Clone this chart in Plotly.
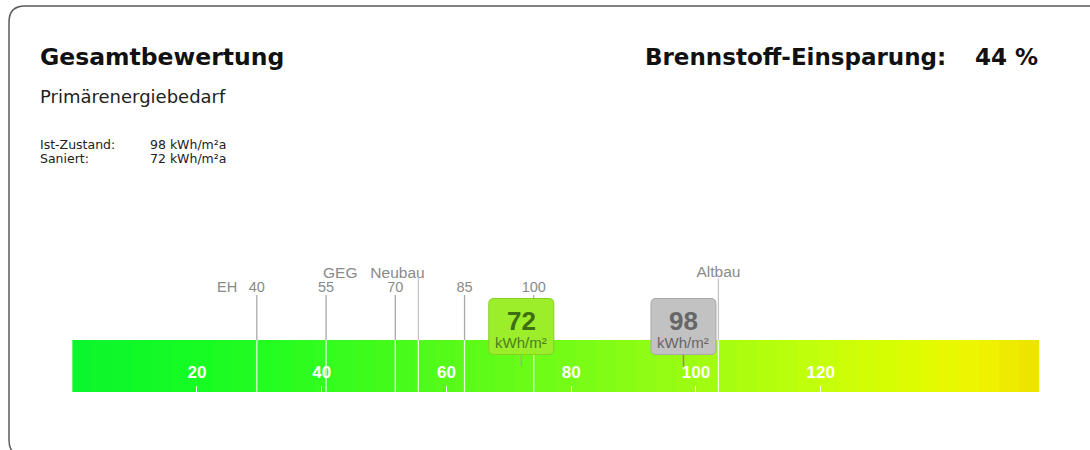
import numpy as np
import plotly.graph_objects as go

W, H = 1090, 450

# ---------------- data ----------------
SCALE_TICKS = [20, 40, 60, 80, 100, 120]
SCALE_MAX = 155
EH_LABELS = ["40", "55", "70", "85", "100"]
EH_VALUES = [29.6, 40.7, 51.8, 62.9, 74.0]
GEG_NEUBAU = 55.5
ALTBAU = 103.6
IST_ZUSTAND = 98
SANIERT = 72
EINSPARUNG = 44
UNIT_BOX = "kWh/m²"
UNIT_YEAR = "kWh/m²a"

GRADIENT_POS = [0, 20, 40, 60, 80, 100, 120, 135, 145, 155]
GRADIENT_RGB = [(10, 245, 45), (22, 252, 35), (48, 253, 30), (85, 250, 25),
                (118, 252, 22), (158, 252, 18), (195, 255, 10), (222, 253, 0),
                (240, 244, 0), (236, 226, 0)]

# ---------------- geometry (pixels) ----------------
BAR_L, BAR_R = 72.2, 1039.0
BAR_BOT, BAR_TOP = 391.7, 340.0


def yd(p):
    """pixel row -> y data value (1 unit = 1 px, 0 = bar bottom)"""
    return BAR_BOT - p


def px(x):
    return x / W


def py(y):
    return 1 - y / H


BAR_H = yd(BAR_TOP)
FONT = "Liberation Sans, Arial, sans-serif"
HFONT = "DejaVu Sans, sans-serif"
GRAY = "#8a8a8a"

fig = go.Figure()

# gradient bar
n_seg = 48
edges = np.linspace(0, SCALE_MAX, n_seg + 1)
centers = (edges[:-1] + edges[1:]) / 2
colorscale = [[p / SCALE_MAX, "rgb(%d,%d,%d)" % c] for p, c in zip(GRADIENT_POS, GRADIENT_RGB)]
fig.add_trace(go.Heatmap(x=edges, y=[0, BAR_H], z=[centers], colorscale=colorscale,
                         zmin=0, zmax=SCALE_MAX, showscale=False, hoverinfo="skip",
                         zsmooth=False))


# reference lines
def seg_lines(values, y0, y1):
    xs, ys = [], []
    for v in values:
        xs += [v, v, None]
        ys += [y0, y1, None]
    return xs, ys


gx, gy = seg_lines(EH_VALUES, BAR_H, yd(295))
fig.add_trace(go.Scatter(x=gx, y=gy, mode="lines", line=dict(color="#a8a8a8", width=1.3),
                         hoverinfo="skip", showlegend=False))
gx, gy = seg_lines([GEG_NEUBAU, ALTBAU], BAR_H, yd(278.3))
fig.add_trace(go.Scatter(x=gx, y=gy, mode="lines", line=dict(color="#c4c4c4", width=1.3),
                         hoverinfo="skip", showlegend=False))
wx, wy = seg_lines(EH_VALUES + [GEG_NEUBAU, ALTBAU], 0, BAR_H)
fig.add_trace(go.Scatter(x=wx, y=wy, mode="lines", line=dict(color="rgba(255,255,255,0.85)", width=1.3),
                         hoverinfo="skip", showlegend=False))

# scale labels inside bar
fig.add_trace(go.Scatter(x=SCALE_TICKS, y=[yd(373.3)] * len(SCALE_TICKS), mode="text",
                         text=[str(t) for t in SCALE_TICKS], textposition="middle center",
                         textfont=dict(family=FONT, size=17, color="white", weight="bold"),
                         hoverinfo="skip", showlegend=False))

# EH labels
fig.add_trace(go.Scatter(x=EH_VALUES, y=[yd(288.3)] * len(EH_VALUES), mode="text",
                         text=EH_LABELS, textposition="middle center",
                         textfont=dict(family=FONT, size=14.5, color=GRAY),
                         hoverinfo="skip", showlegend=False))
fig.add_trace(go.Scatter(x=[ALTBAU], y=[yd(272.7)], mode="text", text=["Altbau"],
                         textposition="middle center",
                         textfont=dict(family=FONT, size=15.5, color=GRAY),
                         hoverinfo="skip", showlegend=False))

annotations = [
    dict(x=EH_VALUES[0], y=yd(287), xref="x", yref="y", text="EH", showarrow=False,
         xanchor="right", yanchor="middle", xshift=-18,
         font=dict(family=FONT, size=14.5, color=GRAY)),
    dict(x=GEG_NEUBAU, y=yd(272.7), xref="x", yref="y", text="GEG\u00a0\u00a0\u00a0Neubau",
         showarrow=False, xanchor="right", yanchor="middle", xshift=9,
         font=dict(family=FONT, size=15.5, color=GRAY)),
]

# value markers
shapes = []
markers = [
    (SANIERT, "#9ced2a", "#86cf25", "#3f6e12", "#4f7d20", "#a0b090"),
    (IST_ZUSTAND, "#c2c2c2", "#a8a8a8", "#666666", "#666666", "#8a8a8a"),
]
bw, r = 32.5, 5
yb, yt = yd(354.5), yd(298.5)
for val, fill, edge, c_num, c_unit, c_stem in markers:
    path = (f"M {-bw + r},{yb} L {bw - r},{yb} Q {bw},{yb} {bw},{yb + r} "
            f"L {bw},{yt - r} Q {bw},{yt} {bw - r},{yt} L {-bw + r},{yt} "
            f"Q {-bw},{yt} {-bw},{yt - r} L {-bw},{yb + r} Q {-bw},{yb} {-bw + r},{yb} Z")
    shapes.append(dict(type="line", xref="x", yref="y", xsizemode="pixel", xanchor=val,
                       x0=0, x1=0, y0=yb, y1=yd(366.5), line=dict(color=c_stem, width=1.5)))
    shapes.append(dict(type="path", xref="x", yref="y", xsizemode="pixel", xanchor=val,
                       path=path, fillcolor=fill, line=dict(color=edge, width=1)))
    annotations.append(dict(x=val, y=yd(320.5), xref="x", yref="y", text=f"<b>{val}</b>",
                            showarrow=False, xanchor="center", yanchor="middle",
                            font=dict(family=FONT, size=26, color=c_num)))
    annotations.append(dict(x=val, y=yd(342), xref="x", yref="y", text=UNIT_BOX,
                            showarrow=False, xanchor="center", yanchor="middle",
                            font=dict(family=FONT, size=15, color=c_unit)))

# frame (rounded rectangle)
fx0, fy0, fx1, fy1, fr = 9, 6, 1104, 456, 16
frame = (f"M {px(fx0)},{py(fy0 + fr)} Q {px(fx0)},{py(fy0)} {px(fx0 + fr)},{py(fy0)} "
         f"L {px(fx1 - fr)},{py(fy0)} Q {px(fx1)},{py(fy0)} {px(fx1)},{py(fy0 + fr)} "
         f"L {px(fx1)},{py(fy1 - fr)} Q {px(fx1)},{py(fy1)} {px(fx1 - fr)},{py(fy1)} "
         f"L {px(fx0 + fr)},{py(fy1)} Q {px(fx0)},{py(fy1)} {px(fx0)},{py(fy1 - fr)} Z")
shapes.append(dict(type="path", xref="paper", yref="paper", path=frame,
                   line=dict(color="#5a5a5a", width=1.5), fillcolor="rgba(0,0,0,0)"))

# header texts
TXT = "#222222"
annotations += [
    dict(x=px(38), y=py(57), xref="paper", yref="paper", text="<b>Gesamtbewertung</b>",
         showarrow=False, xanchor="left", yanchor="middle",
         font=dict(family=HFONT, size=23.5, color="#111111")),
    dict(x=px(38), y=py(97), xref="paper", yref="paper", text="Primärenergiebedarf",
         showarrow=False, xanchor="left", yanchor="middle",
         font=dict(family=HFONT, size=18, color=TXT)),
    dict(x=px(38), y=py(145), xref="paper", yref="paper", text="Ist-Zustand:",
         showarrow=False, xanchor="left", yanchor="middle",
         font=dict(family=HFONT, size=12.5, color=TXT)),
    dict(x=px(38), y=py(159), xref="paper", yref="paper", text="Saniert:",
         showarrow=False, xanchor="left", yanchor="middle",
         font=dict(family=HFONT, size=12.5, color=TXT)),
    dict(x=px(148), y=py(145), xref="paper", yref="paper", text=f"{IST_ZUSTAND} {UNIT_YEAR}",
         showarrow=False, xanchor="left", yanchor="middle",
         font=dict(family=HFONT, size=12.5, color=TXT)),
    dict(x=px(148), y=py(159), xref="paper", yref="paper", text=f"{SANIERT} {UNIT_YEAR}",
         showarrow=False, xanchor="left", yanchor="middle",
         font=dict(family=HFONT, size=12.5, color=TXT)),
    dict(x=px(643), y=py(57), xref="paper", yref="paper", text="<b>Brennstoff-Einsparung:</b>",
         showarrow=False, xanchor="left", yanchor="middle",
         font=dict(family=HFONT, size=23, color="#111111")),
    dict(x=px(1040), y=py(57), xref="paper", yref="paper", text=f"<b>{EINSPARUNG} %</b>",
         showarrow=False, xanchor="right", yanchor="middle",
         font=dict(family=HFONT, size=23, color="#111111")),
]

fig.update_layout(
    width=W, height=H, margin=dict(l=0, r=0, t=0, b=0),
    paper_bgcolor="white", plot_bgcolor="rgba(0,0,0,0)",
    showlegend=False,
    xaxis=dict(range=[0, SCALE_MAX], domain=[BAR_L / W, BAR_R / W], showgrid=False,
               zeroline=False, showline=False, tickvals=SCALE_TICKS, ticks="inside",
               ticklen=6, tickcolor="white", tickwidth=1, showticklabels=False,
               anchor="free", position=py(BAR_BOT), fixedrange=True),
    yaxis=dict(range=[yd(H), yd(0)], domain=[0, 1], visible=False, fixedrange=True),
    shapes=shapes, annotations=annotations,
)

fig.write_html("out.html", config={"displayModeBar": False},
               post_script="document.body.style.margin='0';document.body.style.overflow='hidden';")
